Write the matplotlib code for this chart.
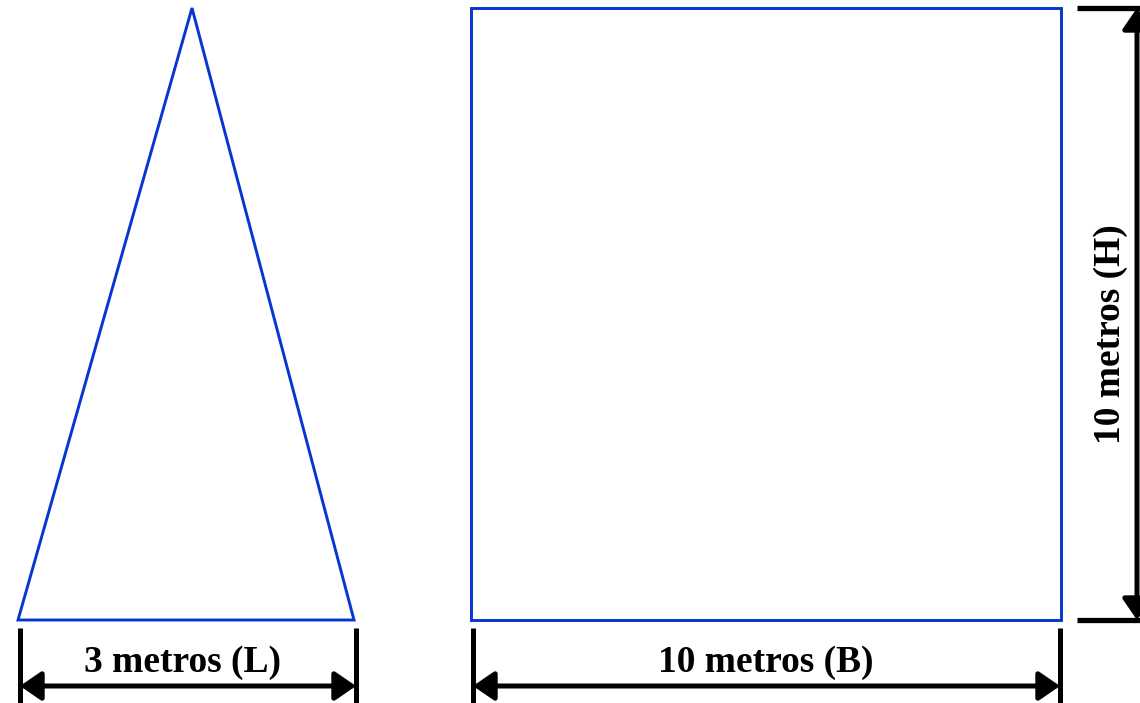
import matplotlib
matplotlib.use("Agg")
import matplotlib.pyplot as plt
from matplotlib.patches import Polygon, FancyArrowPatch

# Diagram geometry (pixel layout of the figure)
triangle_label = "3 metros (L)"
square_base_label = "10 metros (B)"
square_height_label = "10 metros (H)"

tri_x = [18, 354, 192]
tri_y = [620, 620, 8]
sq_x = [471, 1061]
sq_y = [8, 620]

blue = "#0636d0"
W, H = 1140, 703
fig = plt.figure(figsize=(W / 100, H / 100), dpi=100)
ax = fig.add_axes([0, 0, 1, 1])
ax.set_xlim(0, W)
ax.set_ylim(H, 0)
ax.axis("off")

ax.add_patch(Polygon(list(zip(tri_x, tri_y)), closed=True, fill=False,
                     edgecolor=blue, lw=2.1, joinstyle="miter"))
ax.add_patch(Polygon([(sq_x[0], sq_y[0]), (sq_x[1], sq_y[0]),
                      (sq_x[1], sq_y[1]), (sq_x[0], sq_y[1])], closed=True,
                     fill=False, edgecolor=blue, lw=2.1, joinstyle="miter"))

font = dict(family="Liberation Serif", weight="bold", size=27, color="black")
arrow_style = "<|-|>,head_length=0.8,head_width=0.55"


def dim_h(x0, x1, y_arrow, label, xc):
    for x in (x0, x1):
        ax.plot([x, x], [628, 703], color="black", lw=3.6, solid_capstyle="butt")
    ax.add_patch(FancyArrowPatch((x0, y_arrow), (x1, y_arrow),
                                 arrowstyle=arrow_style,
                                 mutation_scale=16, lw=3.6, color="black",
                                 shrinkA=0, shrinkB=0))
    ax.text(xc, 663, label, ha="center", va="center", **font)


dim_h(20, 356, 686, triangle_label, 183)
dim_h(473, 1060, 686, square_base_label, 766)

# right vertical dimension
for y in (sq_y[0], sq_y[1]):
    ax.plot([1077, 1140], [y, y], color="black", lw=3.8, solid_capstyle="butt")
ax.add_patch(FancyArrowPatch((1137, sq_y[0]), (1137, sq_y[1]),
                             arrowstyle=arrow_style,
                             mutation_scale=16, lw=3.6, color="black",
                             shrinkA=0, shrinkB=0))
ax.text(1111, 334, square_height_label, ha="center", va="center",
        rotation=90, **font)

fig.savefig("out.png", dpi=100)
